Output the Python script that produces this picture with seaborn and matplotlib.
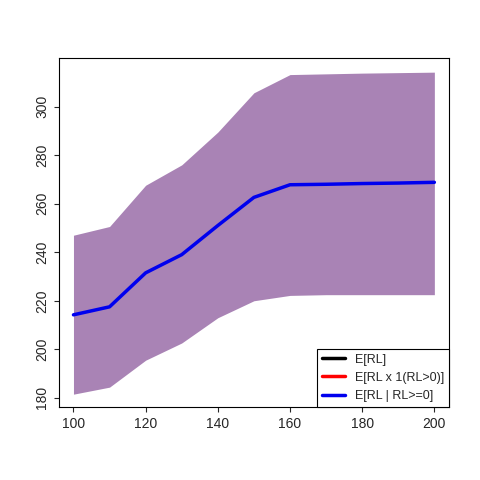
import matplotlib
matplotlib.use("Agg")
import matplotlib.pyplot as plt
import pandas as pd
import seaborn as sns

x = [100, 110, 120, 130, 140, 150, 160, 170, 180, 190, 200]
mean_rl = [214.2, 217.5, 231.5, 239.0, 251.0, 262.6, 267.8, 268.0, 268.3, 268.5, 268.8]
upper = [247.0, 250.6, 267.6, 276.0, 289.5, 305.7, 313.2, 313.5, 313.8, 314.0, 314.2]
lower = [181.5, 184.4, 195.5, 202.6, 213.0, 220.0, 222.2, 222.5, 222.5, 222.5, 222.5]

sns.set_style("ticks")
plt.rcParams["font.family"] = ["Liberation Sans", "DejaVu Sans"]

fig = plt.figure(figsize=(4.8, 4.8), dpi=100)
ax = fig.add_axes([0.123, 0.152, 0.812, 0.727])
ax.fill_between(x, lower, upper, color="#a983b5", linewidth=0)
df = pd.DataFrame({"x": x, "y": mean_rl})
sns.lineplot(data=df, x="x", y="y", ax=ax, color="#0000ee", linewidth=2.5)

ax.set_xlim(96, 204)
ax.set_ylim(176.2, 320)
ax.set_xticks([100, 120, 140, 160, 180, 200])
ax.set_yticks([180, 200, 220, 240, 260, 280, 300])
ax.tick_params(axis="y", labelrotation=90)
for lbl in ax.get_yticklabels():
    lbl.set_va("center")
ax.set_xlabel("")
ax.set_ylabel("")
for s in ax.spines.values():
    s.set_color("black")
    s.set_linewidth(0.8)

h = [plt.Line2D([], [], color=c, lw=2.5) for c in ["black", "red", "#0000ee"]]
leg = ax.legend(h, ["E[RL]", "E[RL x 1(RL>0)]", "E[RL | RL>=0]"], loc="lower right",
                fancybox=False, framealpha=1, edgecolor="black", borderaxespad=0,
                fontsize=9, handlelength=1.8)
leg.get_frame().set_linewidth(0.8)
fig.savefig("out.png", dpi=100)
